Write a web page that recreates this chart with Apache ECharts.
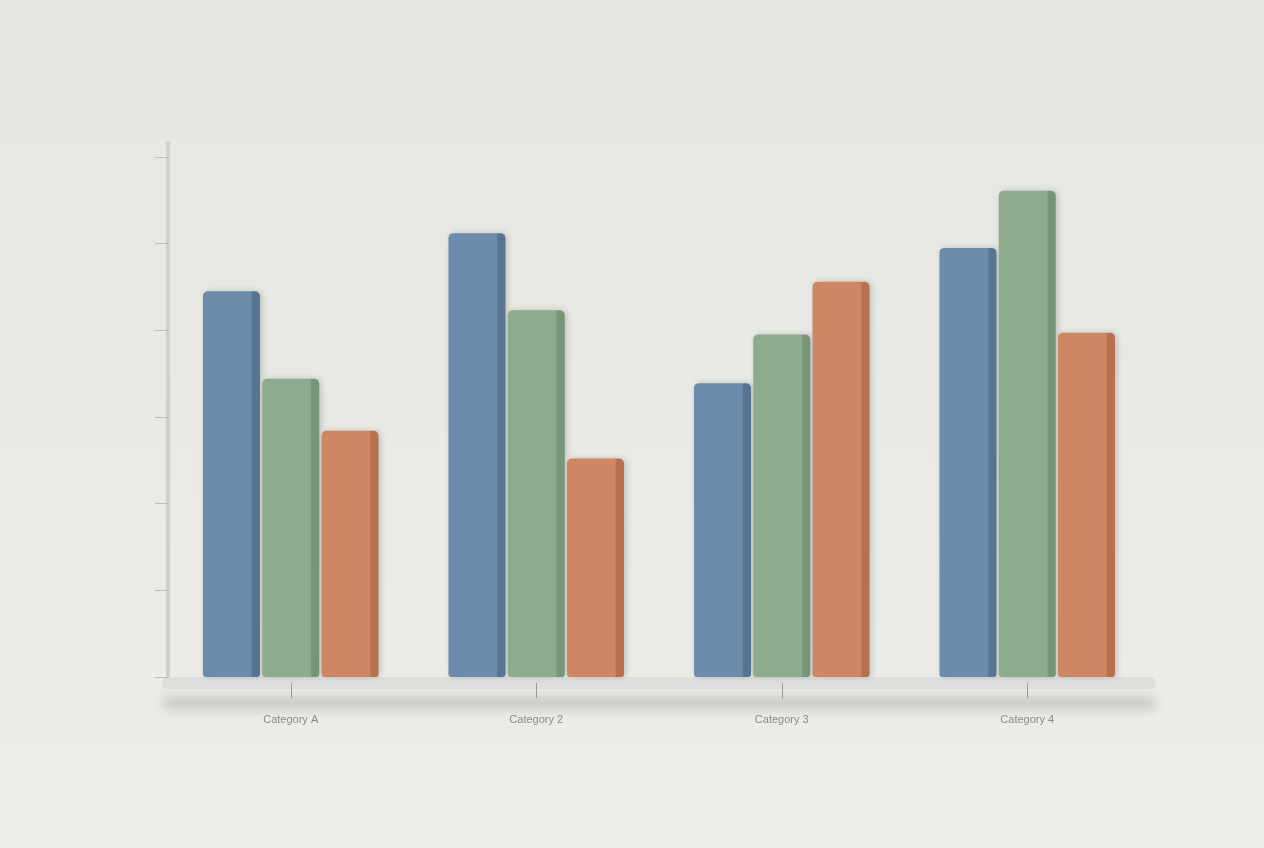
<!DOCTYPE html>
<html>
<head>
<meta charset="utf-8">
<style>
    html, body { margin: 0; padding: 0; background: #e9e9e6; }
    #chart { width: 1264px; height: 848px; }
</style>
</head>
<body>
<div id="chart"></div>
<script src="https://cdn.jsdelivr.net/npm/echarts@6/dist/echarts.min.js"></script>
<script>
    // data (y axis has no labels, scale 0-60)
    var categories = ['Category A', 'Category 2', 'Category 3', 'Category 4'];
    var seriesBlue = [44.5, 51.2, 33.9, 49.5];
    var seriesGreen = [34.4, 42.3, 39.5, 56.1];
    var seriesOrange = [28.4, 25.2, 45.6, 39.7];
    var yTicks = [0, 10, 20, 30, 40, 50, 60];

    // face colour, shaded right side
    function barFill(face, side) {
        return new echarts.graphic.LinearGradient(0, 0, 1, 0, [
            { offset: 0, color: face },
            { offset: 0.84, color: face },
            { offset: 0.87, color: side },
            { offset: 1, color: side }
        ]);
    }

    function makeSeries(name, data, face, side) {
        return {
            name: name,
            type: 'bar',
            data: data,
            barWidth: 57,
            barGap: '4%',
            itemStyle: {
                color: barFill(face, side),
                borderRadius: [5, 5, 3, 3],
                shadowColor: 'rgba(0,0,0,0.18)',
                shadowBlur: 6,
                shadowOffsetX: 2
            }
        };
    }

    var chart = echarts.init(document.getElementById('chart'));
    var option = {
        backgroundColor: new echarts.graphic.LinearGradient(0, 0, 0, 1, [
            { offset: 0, color: '#e6e6e3' },
            { offset: 1, color: '#ecece9' }
        ]),
        animation: false,
        legend: { show: false },
        grid: { left: 168, right: 114, top: 143, bottom: 171 },
        xAxis: {
            type: 'category',
            data: categories,
            offset: 6,
            axisLine: {
                onZero: false,
                lineStyle: {
                    color: '#dededc',
                    width: 12,
                    shadowColor: 'rgba(0,0,0,0.16)',
                    shadowBlur: 12,
                    shadowOffsetY: 20
                }
            },
            axisTick: {
                show: true,
                alignWithLabel: true,
                length: 15,
                lineStyle: { color: '#9a9a98', width: 1 }
            },
            axisLabel: {
                margin: 31,
                fontSize: 11,
                color: '#8a8a88',
                fontFamily: 'Liberation Sans'
            },
            splitLine: { show: false }
        },
        yAxis: {
            type: 'value',
            min: 0,
            max: 61.6,
            interval: 10,
            axisLine: {
                show: true,
                lineStyle: { color: '#cfcfcd', width: 4 }
            },
            axisTick: {
                show: true,
                customValues: yTicks,
                length: 13,
                lineStyle: { color: '#bdbdbb', width: 1 }
            },
            axisLabel: { show: false },
            splitLine: { show: false }
        },
        series: [
            makeSeries('Blue', seriesBlue, '#6b8cab', '#557592'),
            makeSeries('Green', seriesGreen, '#8dab8d', '#779577'),
            makeSeries('Orange', seriesOrange, '#cf8662', '#b8714f')
        ]
    };
    chart.setOption(option);
</script>
</body>
</html>
